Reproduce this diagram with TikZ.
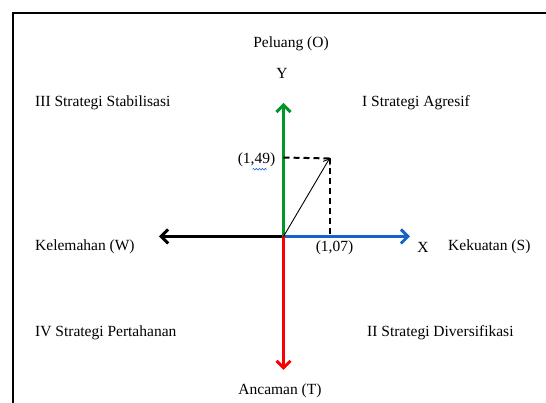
\documentclass[tikz,border=0pt]{standalone}
\usepackage{fontspec}
\setmainfont{Liberation Serif}
\usetikzlibrary{arrows.meta,decorations.pathmorphing}
\definecolor{axgreen}{RGB}{0,150,40}
\definecolor{axred}{RGB}{250,0,0}
\definecolor{axblue}{RGB}{20,100,200}
\begin{document}
\begin{tikzpicture}[x=1pt,y=1pt,
  lbl/.style={inner sep=0pt,font=\fontsize{15.5}{18}\selectfont},
  axis/.style={line width=3pt,-{Straight Barb[length=7pt,width=14pt,line width=3pt]}},
  guide/.style={line width=2pt,dash pattern=on 6pt off 4pt},
  vec/.style={line width=0.9pt,-{Straight Barb[length=5pt,width=8pt]}}]
\useasboundingbox (0,0) rectangle (546,403);
% frame
\draw[line width=1.6pt] (13,0) -- (13,390) -- (546,390);
% coordinates
\coordinate (O) at (283.5,166.5);
\coordinate (P) at (329.5,244.5);
\coordinate (Pv) at (329.5,166.5);
\coordinate (Ph) at (283.5,245.5);
\coordinate (Yt) at (283.5,300);
\coordinate (Tt) at (283.5,33);
\coordinate (Wt) at (159,166.5);
\coordinate (St) at (410,166.5);
% axes
\draw[axis,black] (O) -- (Wt);
\draw[axis,axblue] (O) -- (St);
\draw[axis,axred] (O) -- (Tt);
\draw[axis,axgreen] (O) -- (Yt);
% guides
\draw[guide] (Ph) -- (P);
\draw[guide] (P) -- (Pv);
\draw[vec] (O) -- (P);
% labels
\node[lbl] (peluang) at (291,359) {Peluang (O)};
\node[lbl] (ylab) at (282,330) {Y};
\node[lbl,anchor=west] (q3) at (35,300) {III Strategi Stabilisasi};
\node[lbl,anchor=west] (q1) at (362,300) {I Strategi Agresif};
\node[lbl] (v149) at (256.5,243) {(1,49)};
\draw[axblue,line width=0.6pt,decorate,decoration={snake,amplitude=0.8pt,segment length=3pt}]
  ([xshift=-4pt,yshift=-2pt]v149.south) -- ([xshift=10pt,yshift=-2pt]v149.south);
\node[lbl,anchor=west] (kel) at (35,156) {Kelemahan (W)};
\node[lbl] (v107) at (334.5,155) {(1,07)};
\node[lbl] (xlab) at (423,156) {X};
\node[lbl,anchor=west] (kek) at (448,156) {Kekuatan (S)};
\node[lbl,anchor=west] (q4) at (35,70) {IV Strategi Pertahanan};
\node[lbl,anchor=west] (q2) at (367,70) {II Strategi Diversifikasi};
\node[lbl] (anc) at (280,12) {Ancaman (T)};
\end{tikzpicture}
\end{document}
